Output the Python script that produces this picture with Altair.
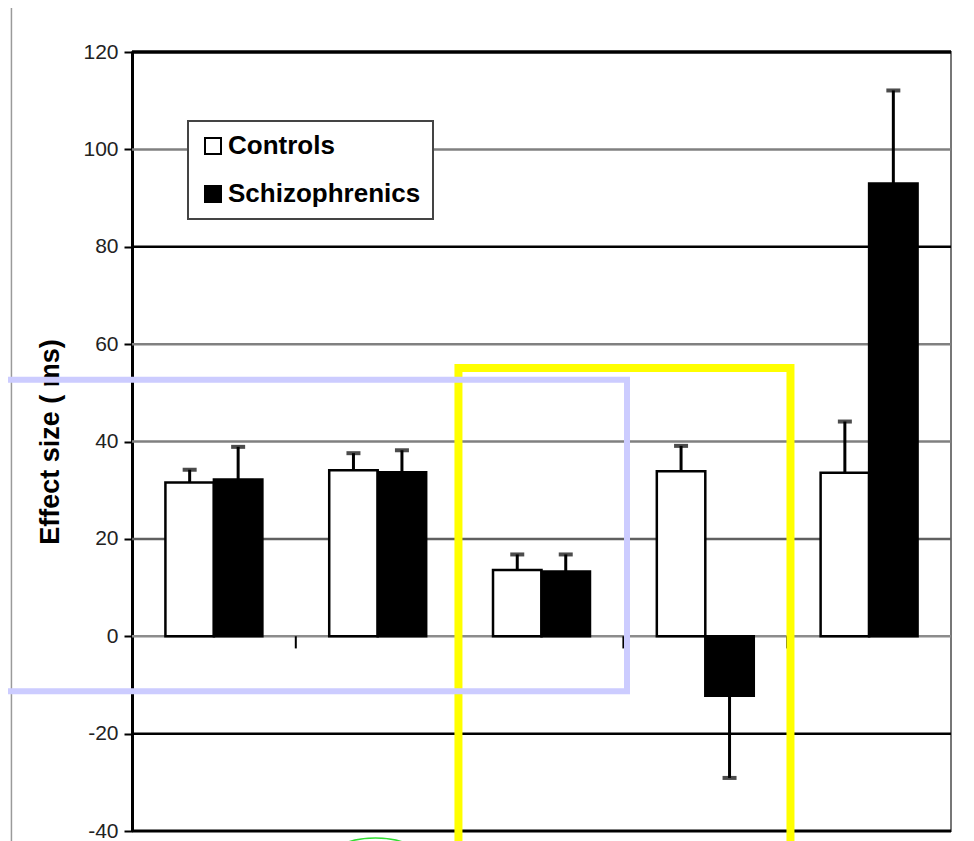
import altair as alt
import pandas as pd

# ---------------- data ----------------
groups = ["1", "2", "3", "4", "5"]
series_names = ["Controls", "Schizophrenics"]
controls = [31.6, 34.1, 13.6, 33.9, 33.6]
controls_err = [2.6, 3.5, 3.2, 5.2, 10.5]
schizo = [32.2, 33.7, 13.3, -12.2, 93.0]
schizo_err = [6.7, 4.5, 3.5, 16.9, 19.1]
y_ticks = [-40, -20, 0, 20, 40, 60, 80, 100, 120]

# grid line styling (values above, styles here)
grid_color = {120: "black", 100: "#808080", 80: "black", 60: "#808080",
              40: "#808080", 20: "#606060", 0: "#8c8c8c", -20: "black", -40: "black"}
grid_width = {120: 3.5, -40: 3}

# category boundaries (in group units) where small ticks sit on the zero line
cat_bounds = [1, 2, 3, 4]

# annotation overlays, in group units (x) and ms (y)
lavender_box = {"x": -0.85, "x2": 3.022, "y": 52.7, "y2": -11.3}
yellow_box = {"x": 1.993, "x2": 4.020, "y": 55.1, "y2": -46.0}
green_ellipse = {"u": 1.486, "y": -45.5}
page_frame_left = {"u": -0.736, "y": 135, "y2": -46}

# ---------------- tables ----------------
rows = []
for i, g in enumerate(groups):
    for s, vals, errs in ((series_names[0], controls, controls_err),
                          (series_names[1], schizo, schizo_err)):
        v, e = vals[i], errs[i]
        end = v + e if v >= 0 else v - e
        rows.append({"group": g, "series": s, "y": v, "end": end})
bars_df = pd.DataFrame(rows)
caps_df = bars_df.assign(y=bars_df["end"])

grid_df = pd.DataFrame({
    "y": y_ticks,
    "c": [grid_color[v] for v in y_ticks],
    "w": [grid_width.get(v, 2.5) for v in y_ticks],
})
catticks_df = pd.DataFrame({"u": cat_bounds, "y": [0] * len(cat_bounds),
                            "y2": [-2.5] * len(cat_bounds)})

yscale = alt.Scale(domain=[-40, 120], nice=False, zero=False)
yaxis = alt.Axis(values=y_ticks, grid=False, title="Effect size ( ms)",
                 labelExpr="'' + datum.value",
                 titleFont="Liberation Sans", titleFontSize=27, titleFontWeight="bold",
                 titleColor="black", titlePadding=18,
                 labelFont="Liberation Sans", labelFontSize=21, labelColor="#222",
                 labelPadding=6, tickSize=8, tickWidth=2, tickColor="black",
                 domainColor="black", domainWidth=3)


def Y(field):
    return alt.Y(field, type="quantitative", scale=yscale, axis=yaxis)


xband = alt.X("group:N", sort=groups, axis=None,
              scale=alt.Scale(paddingInner=0.408, paddingOuter=0.204))
xoff = alt.XOffset("series:N", sort=series_names,
                   scale=alt.Scale(paddingInner=0, paddingOuter=0))
uscale = alt.Scale(domain=[0, 5], nice=False, zero=False)


def U(field="u"):
    return alt.X(field, type="quantitative", scale=uscale, axis=None)


grid = alt.Chart(grid_df).mark_rule().encode(
    y=Y("y"),
    color=alt.Color("c:N", scale=None),
    strokeWidth=alt.StrokeWidth("w:Q", scale=None),
)

bars = alt.Chart(bars_df).mark_bar(stroke="black", strokeWidth=2.5).encode(
    x=xband, xOffset=xoff, y=Y("y"), y2=alt.datum(0),
    fill=alt.Fill("series:N",
                  scale=alt.Scale(domain=series_names, range=["white", "black"]),
                  legend=alt.Legend(title=None, orient="none", legendX=56, legendY=69,
                                    fillColor="white", strokeColor="#444",
                                    padding=12, rowPadding=22,
                                    symbolType="square", symbolSize=256,
                                    symbolStrokeColor="black", symbolStrokeWidth=2,
                                    labelFont="Liberation Sans", labelFontSize=26,
                                    labelFontWeight="bold", labelColor="black",
                                    labelOffset=2, labelLimit=500)),
)

err = alt.Chart(bars_df).mark_rule(color="black", strokeWidth=3).encode(
    x=xband, xOffset=xoff, y=Y("y"), y2="end:Q",
)

caps = alt.Chart(caps_df).mark_tick(color="black", size=14, thickness=4,
                                    orient="horizontal").encode(
    x=xband, xOffset=xoff, y=Y("y"),
)

main = alt.layer(bars, err, caps)

catticks = alt.Chart(catticks_df).mark_rule(color="black", strokeWidth=2).encode(
    x=U(), y=Y("y"), y2="y2:Q",
)

frame_df = pd.DataFrame([page_frame_left])
frame = alt.Chart(frame_df).mark_rule(color="#9a9a9a", strokeWidth=1.5, clip=False).encode(
    x=U(), y=Y("y"), y2="y2:Q",
)

yel = alt.Chart(pd.DataFrame([yellow_box])).mark_rect(
    fillOpacity=0, stroke="#ffff00", strokeWidth=8, clip=False).encode(
    x=U("x"), x2="x2:Q", y=Y("y"), y2="y2:Q",
)

lav = alt.Chart(pd.DataFrame([lavender_box])).mark_rect(
    fillOpacity=0, stroke="#ccccff", strokeWidth=6, clip=False).encode(
    x=U("x"), x2="x2:Q", y=Y("y"), y2="y2:Q",
)

ellipse_path = "M -1 0 A 1 0.44 0 1 1 1 0 A 1 0.44 0 1 1 -1 0 Z"
ell = alt.Chart(pd.DataFrame([green_ellipse])).mark_point(
    shape=ellipse_path, size=8100, filled=False, stroke="#33dd33",
    strokeWidth=1.5, opacity=1, clip=False).encode(
    x=U(), y=Y("y"),
)

chart = alt.layer(grid, main, catticks, frame, yel, lav, ell).resolve_scale(
    x="independent"
).properties(
    width=819, height=779,
    autosize=alt.AutoSizeParams(type="none"),
    padding={"left": 124, "top": 44, "right": 8, "bottom": 10},
    background="white",
).configure_view(stroke="#777", strokeWidth=2).configure_legend(strokeWidth=2)

chart.save("out.html", embed_options={"renderer": "svg", "actions": False})
